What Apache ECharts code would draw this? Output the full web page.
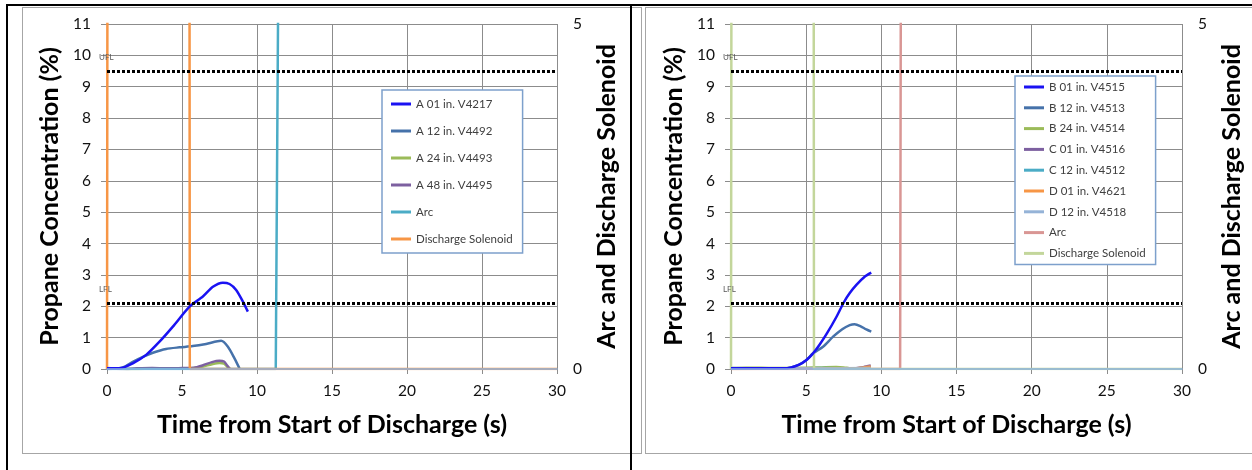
<!DOCTYPE html>
<html><head><meta charset="utf-8">
<script src="https://cdn.jsdelivr.net/npm/echarts@6/dist/echarts.min.js"></script>
<style>
html,body{margin:0;padding:0;background:#fff;width:1252px;height:470px;overflow:hidden;position:relative}
.frame{position:absolute;box-sizing:border-box}
#c1{position:absolute;left:0;top:0;width:631px;height:470px}
#c2{position:absolute;left:631px;top:0;width:621px;height:470px}
</style></head><body>
<div class="frame" style="left:22px;top:7px;width:620px;height:447px;border:1px solid #a6a6a6"></div>
<div class="frame" style="left:645px;top:7px;width:620px;height:447px;border:1px solid #a6a6a6"></div>
<div class="frame" style="left:6px;top:4px;width:1250px;height:2px;background:#000"></div>
<div class="frame" style="left:6px;top:4px;width:2px;height:470px;background:#000"></div>
<div class="frame" style="left:630px;top:4px;width:2px;height:470px;background:#000"></div>
<div id="c1"></div><div id="c2"></div>
<script>
// ---------- data ----------
const xTickLabels = [0, 5, 10, 15, 20, 25, 30];
const leftYTicks = [0,1,2,3,4,5,6,7,8,9,10,11];
const rightYTicks = [0, 5];
const limitNames = ['UFL', 'LFL'];
const limitValues = [9.5, 2.1];

// Left chart (A probes)
const leftNames = ['A 01 in. V4217', 'A 12 in. V4492', 'A 24 in. V4493', 'A 48 in. V4495', 'Arc', 'Discharge Solenoid'];
const leftColors = ['#1a12f2', '#4672aa', '#9bbb59', '#7d60a0', '#4bacc6', '#f79646'];
const A01 = [[0,0.02],[0.83,0.02],[1.72,0.18],[2.61,0.45],[3.5,0.87],[4.39,1.35],[5.5,1.99],[6.39,2.31],[7.06,2.62],[7.72,2.75],[8.17,2.71],[8.61,2.52],[9.06,2.15],[9.39,1.83]];
const A12 = [[0,0],[1.06,0.05],[1.72,0.23],[2.39,0.39],[3.06,0.52],[3.94,0.64],[4.83,0.69],[5.72,0.73],[6.61,0.8],[7.61,0.9],[8.06,0.71],[8.5,0.34],[8.83,0.02]];
const A24 = [[0,0.03],[1,0.01],[2,0.0],[3,0.01],[4,0.01],[5,0.02],[5.8,0.03],[6.4,0.08],[7.0,0.15],[7.5,0.19],[7.8,0.17],[8.0,0.08],[8.2,0.0]];
const A48 = [[0,0.02],[1,0.0],[2,0.02],[3,0.03],[4,0.02],[5,0.03],[5.8,0.04],[6.4,0.12],[7.0,0.22],[7.5,0.26],[7.8,0.24],[8.0,0.12],[8.2,0.0]];
const leftArc = [[0,0],[11.25,0],[11.43,6],[30,6]];
const leftSolenoid = [[0,0],[0.03,6],[5.5,6],[5.52,0],[30,0]];

// Right chart (B, C, D probes)
const rightNames = ['B 01 in. V4515', 'B 12 in. V4513', 'B 24 in. V4514', 'C 01 in. V4516', 'C 12 in. V4512', 'D 01 in. V4621', 'D 12 in. V4518', 'Arc', 'Discharge Solenoid'];
const rightColors = ['#1a12f2', '#4672aa', '#9bbb59', '#7d60a0', '#4bacc6', '#f79646', '#95b3d7', '#d99694', '#c3d69b'];
const B01 = [[0,0.02],[1,0.02],[2,0.02],[3,0.02],[3.5,0.02],[4.0,0.05],[4.5,0.13],[5.0,0.28],[5.46,0.5],[5.9,0.78],[6.4,1.15],[7.0,1.65],[7.5,2.12],[7.9,2.42],[8.34,2.68],[8.89,2.94],[9.33,3.07]];
const B12 = [[0,0.02],[1,0.02],[2,0.02],[3,0.02],[3.5,0.02],[4.0,0.05],[4.5,0.13],[5.0,0.28],[5.46,0.5],[6.12,0.71],[6.79,1.03],[7.4,1.27],[7.9,1.40],[8.22,1.43],[8.6,1.37],[9.0,1.26],[9.33,1.19]];
const B24 = [[0,0.03],[1,0.04],[2,0.04],[3,0.03],[4,0.03],[5,0.04],[6,0.05],[7,0.06],[7.5,0.05],[8,0.02],[9.3,0.03]];
const C01 = [[0,0.01],[2,0.01],[4,0.01],[6,0.02],[8,0.02],[8.8,0.06],[9.3,0.11]];
const C12 = [[0,0.02],[2,0.02],[4,0.02],[6,0.03],[8,0.02],[9.3,0.04]];
const D01 = [[0,0.0],[4,0.01],[8,0.01],[8.8,0.05],[9.3,0.08]];
const D12 = [[0,0.03],[3,0.02],[6,0.02],[9.3,0.03]];
const rightArc = [[0,0],[11.25,0],[11.3,6],[30,6]];
const rightSolenoid = [[0,0],[0.03,6],[5.5,6],[5.52,0],[30,0]];

// ---------- build ----------
const FONT = 'Lato, "Open Sans", sans-serif';
const GRID_COLOR = '#8c8c8c';

function buildOption(cfg) {
  const series = cfg.data.map((d, i) => {
    const isSignal = i >= cfg.data.length - 2;
    const s = {
      name: cfg.names[i], type: 'line', data: d,
      xAxisIndex: 0, yAxisIndex: isSignal ? 1 : 0,
      showSymbol: false, symbol: 'none', animation: false,
      smooth: isSignal ? false : 0.25,
      z: i === 0 ? 3 : 2,
      lineStyle: { color: cfg.colors[i], width: 2.5 },
      itemStyle: { color: cfg.colors[i] }
    };
    if (i === 0) {
      s.markLine = {
        silent: true, symbol: 'none', animation: false,
        label: { show: false },
        lineStyle: { color: '#000', width: 3, type: [3, 2] },
        data: limitValues.map(v => ({ yAxis: v }))
      };
      s.markPoint = {
        silent: true, animation: false, symbol: 'circle', symbolSize: 0,
        itemStyle: { color: 'rgba(0,0,0,0)' },
        label: { show: true, formatter: '{b}', position: [-8, -18], fontSize: 8, color: '#595959', fontFamily: FONT },
        data: limitNames.map((n, k) => ({ name: n, coord: [0, limitValues[k]] }))
      };
    }
    return s;
  });
  return {
    backgroundColor: 'transparent',
    animation: false,
    textStyle: { fontFamily: FONT },
    grid: { left: cfg.gridLeft, top: 24, width: cfg.gridWidth, height: 345, containLabel: false },
    legend: {
      orient: 'vertical', left: cfg.legendLeft, top: cfg.legendTop,
      icon: 'rect', itemWidth: 20, itemHeight: 3, itemGap: cfg.legendGap,
      padding: cfg.legendPad, borderColor: '#7da0cc', borderWidth: 1.5,
      backgroundColor: '#fff', selectedMode: false,
      textStyle: { fontSize: 11.5, color: '#404040', fontFamily: FONT, lineHeight: 12 },
      data: cfg.names
    },
    xAxis: [{
      type: 'value', min: xTickLabels[0], max: xTickLabels[xTickLabels.length - 1],
      interval: xTickLabels[1] - xTickLabels[0],
      axisLine: { show: true, lineStyle: { color: GRID_COLOR } },
      axisTick: { show: true, length: 5, lineStyle: { color: GRID_COLOR } },
      axisLabel: { fontSize: 15.5, color: '#111', margin: 14, fontFamily: FONT },
      splitLine: { show: true, lineStyle: { color: GRID_COLOR, width: 1 } },
      name: 'Time from Start of Discharge (s)', nameLocation: 'middle', nameGap: 43,
      nameTextStyle: { fontSize: 25, fontWeight: 'bold', color: '#000', fontFamily: FONT }
    }, {
      type: 'value', position: 'top', min: 0, max: 30, z: 5,
      axisLine: { show: true, lineStyle: { color: '#8db4e2', width: 1.5 } },
      axisTick: { show: false }, axisLabel: { show: false }, splitLine: { show: false }
    }],
    yAxis: [{
      type: 'value', min: leftYTicks[0], max: leftYTicks[leftYTicks.length - 1], interval: 1,
      axisLine: { show: true, lineStyle: { color: GRID_COLOR } },
      axisTick: { show: true, length: 6, lineStyle: { color: GRID_COLOR } },
      axisLabel: { fontSize: 15.5, color: '#111', margin: 16, fontFamily: FONT },
      splitLine: { show: true, lineStyle: { color: GRID_COLOR, width: 1 } },
      name: 'Propane Concentration (%)', nameLocation: 'middle', nameGap: 35, nameRotate: 90,
      nameTextStyle: { fontSize: 25, fontWeight: 'bold', color: '#000', fontFamily: FONT }
    }, {
      type: 'value', position: 'right', min: rightYTicks[0], max: rightYTicks[1], interval: 5,
      axisLine: { show: true, lineStyle: { color: GRID_COLOR } },
      axisTick: { show: true, length: 6, lineStyle: { color: GRID_COLOR } },
      axisLabel: { fontSize: 15.5, color: '#111', margin: 16, fontFamily: FONT },
      splitLine: { show: false },
      name: 'Arc and Discharge Solenoid', nameLocation: 'middle', nameGap: 37, nameRotate: 90,
      nameTextStyle: { fontSize: 25, fontWeight: 'bold', color: '#000', fontFamily: FONT }
    }],
    series: series
  };
}

const chart1 = echarts.init(document.getElementById('c1'), null, { renderer: 'canvas' });
chart1.setOption(buildOption({
  names: leftNames, colors: leftColors,
  data: [A01, A12, A24, A48, leftArc, leftSolenoid],
  gridLeft: 107, gridWidth: 450,
  legendLeft: 382, legendTop: 90, legendGap: 15, legendPad: [8, 10, 8, 9]
}));

const chart2 = echarts.init(document.getElementById('c2'), null, { renderer: 'canvas' });
chart2.setOption(buildOption({
  names: rightNames, colors: rightColors,
  data: [B01, B12, B24, C01, C12, D01, D12, rightArc, rightSolenoid],
  gridLeft: 100, gridWidth: 452,
  legendLeft: 384, legendTop: 76, legendGap: 8.8, legendPad: [5, 10, 5, 9]
}));
</script>
</body></html>
